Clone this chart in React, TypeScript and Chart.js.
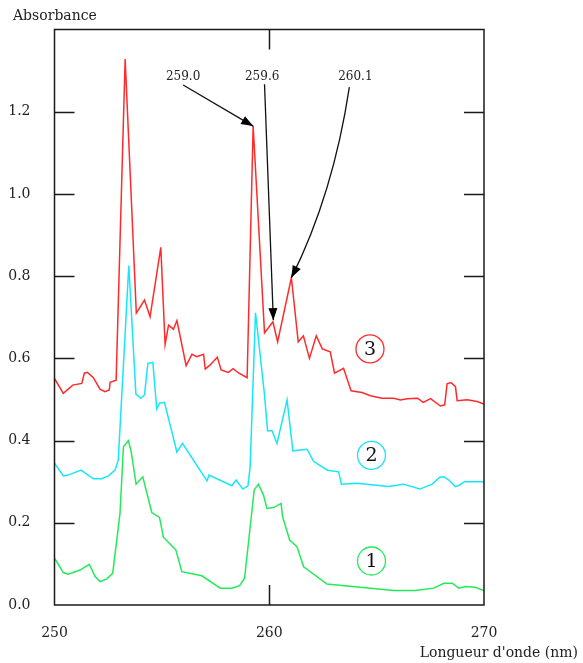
import React, { useEffect, useRef } from "react";
import { Chart, registerables } from "chart.js";

Chart.register(...registerables);

// Wavelength (nm) / absorbance for each curve
const redX = [250.0, 250.41, 250.85, 251.27, 251.39, 251.53, 251.81, 252.12, 252.35, 252.55, 252.59, 252.87, 253.29, 253.81, 254.19, 254.45, 254.95, 255.15, 255.31, 255.54, 255.7, 256.13, 256.4, 256.63, 256.94, 257.02, 257.25, 257.58, 257.76, 258.09, 258.32, 258.55, 258.97, 259.25, 259.78, 260.17, 260.39, 261.03, 261.35, 261.59, 261.87, 262.19, 262.47, 262.84, 263.04, 263.46, 263.81, 264.32, 264.71, 265.25, 265.79, 266.11, 266.42, 266.91, 267.17, 267.51, 267.97, 268.17, 268.28, 268.47, 268.67, 268.75, 269.22, 269.68, 269.99];
const redY = [0.551, 0.515, 0.535, 0.539, 0.564, 0.566, 0.553, 0.525, 0.519, 0.523, 0.542, 0.547, 1.328, 0.71, 0.742, 0.701, 0.87, 0.634, 0.681, 0.671, 0.692, 0.582, 0.61, 0.604, 0.61, 0.574, 0.584, 0.603, 0.572, 0.566, 0.575, 0.565, 0.553, 1.165, 0.662, 0.689, 0.64, 0.796, 0.64, 0.655, 0.6, 0.655, 0.623, 0.616, 0.564, 0.576, 0.521, 0.517, 0.509, 0.503, 0.503, 0.499, 0.502, 0.503, 0.493, 0.502, 0.484, 0.487, 0.538, 0.541, 0.531, 0.497, 0.499, 0.495, 0.489];

const cyanX = [250.0, 250.41, 250.64, 251.24, 251.81, 252.2, 252.51, 252.82, 252.97, 253.46, 253.79, 254.02, 254.19, 254.35, 254.58, 254.76, 254.89, 255.12, 255.7, 255.96, 257.1, 257.2, 258.26, 258.46, 258.77, 259.01, 259.11, 259.36, 259.78, 259.92, 260.13, 260.36, 260.83, 261.1, 261.76, 262.07, 262.72, 263.23, 263.36, 264.09, 265.56, 266.26, 267.01, 267.59, 267.94, 268.13, 268.36, 268.67, 268.87, 269.09, 269.99];
const cyanY = [0.345, 0.314, 0.316, 0.328, 0.307, 0.307, 0.314, 0.328, 0.353, 0.826, 0.513, 0.503, 0.511, 0.588, 0.59, 0.477, 0.491, 0.493, 0.372, 0.393, 0.302, 0.316, 0.29, 0.304, 0.282, 0.29, 0.336, 0.711, 0.511, 0.424, 0.424, 0.393, 0.499, 0.375, 0.379, 0.349, 0.328, 0.324, 0.294, 0.296, 0.288, 0.294, 0.282, 0.294, 0.311, 0.312, 0.304, 0.288, 0.292, 0.3, 0.3];

const greenX = [250.0, 250.41, 250.64, 251.19, 251.62, 251.89, 252.12, 252.43, 252.71, 253.05, 253.21, 253.44, 253.57, 253.8, 254.11, 254.53, 254.89, 255.07, 255.65, 255.93, 256.86, 257.72, 258.26, 258.62, 258.85, 259.3, 259.49, 259.73, 259.89, 260.2, 260.55, 260.62, 260.95, 261.29, 261.6, 262.69, 265.79, 266.81, 267.66, 268.13, 268.52, 268.83, 269.14, 269.6, 269.99];
const greenY = [0.114, 0.079, 0.075, 0.085, 0.099, 0.069, 0.057, 0.063, 0.077, 0.223, 0.385, 0.4, 0.373, 0.294, 0.312, 0.225, 0.213, 0.165, 0.134, 0.081, 0.071, 0.041, 0.041, 0.047, 0.065, 0.28, 0.294, 0.268, 0.235, 0.237, 0.247, 0.215, 0.158, 0.142, 0.093, 0.051, 0.035, 0.035, 0.041, 0.053, 0.053, 0.041, 0.045, 0.043, 0.035];

const xTicks = [250, 260, 270];
const yTicks = [0, 0.2, 0.4, 0.6, 0.8, 1.0, 1.2];

const yTitle = "Absorbance";
const xTitle = "Longueur d'onde (nm)";

// Peak annotations: label, label position, arrow start, optional curve control, arrow tip (data units)
const peakLabels = ["259.0", "259.6", "260.1"];
const peakLabelX = [255.99, 259.67, 264.01];
const peakLabelY = [1.285, 1.285, 1.285];
const arrowFromX = [255.99, 259.78, 263.73];
const arrowFromY = [1.265, 1.267, 1.26];
const arrowCtrlX = [null, null, 262.98];
const arrowCtrlY = [null, null, 1.0];
const arrowToX = [259.25, 260.19, 261.03];
const arrowToY = [1.165, 0.693, 0.796];

// Curve number markers
const markerText = ["3", "2", "1"];
const markerX = [264.69, 264.76, 264.76];
const markerY = [0.623, 0.364, 0.107];

const RED = "#ff2a2a";
const CYAN = "#16e6fa";
const GREEN = "#22ea5a";
const markerColor = [RED, CYAN, GREEN];

const FONT = "'DejaVu Serif', serif";

const toPts = (xs: number[], ys: number[]) => xs.map((x, i) => ({ x, y: ys[i] }));

const decorPlugin = {
  id: "decor",
  afterDatasetsDraw(chart: any) {
    const { ctx, chartArea, scales } = chart;
    const { left, right, top, bottom } = chartArea;
    const xs = scales.x;
    const ys = scales.y;
    ctx.save();
    // frame
    ctx.strokeStyle = "#1a1a1a";
    ctx.lineWidth = 1.5;
    ctx.strokeRect(left, top, right - left, bottom - top);
    // inner ticks
    ctx.lineWidth = 1.5;
    ctx.beginPath();
    yTicks.forEach((v) => {
      if (v <= 0) return;
      const py = Math.round(ys.getPixelForValue(v)) + 0.5;
      ctx.moveTo(left, py);
      ctx.lineTo(left + 20, py);
      ctx.moveTo(right - 20, py);
      ctx.lineTo(right, py);
    });
    xTicks.forEach((v) => {
      if (v <= xs.min || v >= xs.max) return;
      const px = Math.round(xs.getPixelForValue(v)) + 0.5;
      ctx.moveTo(px, bottom);
      ctx.lineTo(px, bottom - 20);
      ctx.moveTo(px, top);
      ctx.lineTo(px, top + 20);
    });
    ctx.stroke();

    // titles
    ctx.fillStyle = "#222";
    ctx.font = `14px ${FONT}`;
    ctx.textBaseline = "alphabetic";
    ctx.textAlign = "left";
    ctx.fillText(yTitle, 13, 20);
    ctx.textAlign = "right";
    ctx.fillText(xTitle, 578, 657);

    // peak annotations
    ctx.font = `12px ${FONT}`;
    ctx.textAlign = "center";
    ctx.textBaseline = "middle";
    peakLabels.forEach((t, i) => {
      ctx.fillStyle = "#222";
      ctx.fillText(t, xs.getPixelForValue(peakLabelX[i]), ys.getPixelForValue(peakLabelY[i]));
      const x0 = xs.getPixelForValue(arrowFromX[i]);
      const y0 = ys.getPixelForValue(arrowFromY[i]);
      const x1 = xs.getPixelForValue(arrowToX[i]);
      const y1 = ys.getPixelForValue(arrowToY[i]);
      const cxv = arrowCtrlX[i];
      const cyv = arrowCtrlY[i];
      let dx: number, dy: number;
      ctx.strokeStyle = "#111";
      ctx.lineWidth = 1.3;
      ctx.beginPath();
      ctx.moveTo(x0, y0);
      if (cxv !== null && cyv !== null) {
        const cx = xs.getPixelForValue(cxv);
        const cy = ys.getPixelForValue(cyv);
        ctx.quadraticCurveTo(cx, cy, x1, y1);
        dx = x1 - cx;
        dy = y1 - cy;
      } else {
        ctx.lineTo(x1, y1);
        dx = x1 - x0;
        dy = y1 - y0;
      }
      ctx.stroke();
      const len = Math.hypot(dx, dy);
      const ux = dx / len;
      const uy = dy / len;
      const hl = 12;
      const hw = 4.5;
      ctx.fillStyle = "#000";
      ctx.beginPath();
      ctx.moveTo(x1, y1);
      ctx.lineTo(x1 - ux * hl - uy * hw, y1 - uy * hl + ux * hw);
      ctx.lineTo(x1 - ux * hl + uy * hw, y1 - uy * hl - ux * hw);
      ctx.closePath();
      ctx.fill();
    });

    // curve markers
    markerText.forEach((t, i) => {
      const px = xs.getPixelForValue(markerX[i]);
      const py = ys.getPixelForValue(markerY[i]);
      ctx.strokeStyle = markerColor[i];
      ctx.lineWidth = 1.3;
      ctx.beginPath();
      ctx.arc(px, py, 14, 0, Math.PI * 2);
      ctx.stroke();
      ctx.fillStyle = "#111";
      ctx.font = `19px ${FONT}`;
      ctx.textAlign = "center";
      ctx.textBaseline = "middle";
      ctx.fillText(t, px, py + 1);
    });
    ctx.restore();
  },
};

export default function App() {
  const ref = useRef<HTMLCanvasElement | null>(null);
  useEffect(() => {
    if (!ref.current) return;
    const lineDs = (data: any[], color: string) => ({
      data,
      borderColor: color,
      backgroundColor: color,
      borderWidth: 1.5,
      pointRadius: 0,
      tension: 0,
      fill: false,
    });
    const chart = new Chart(ref.current, {
      type: "line",
      data: {
        datasets: [
          lineDs(toPts(redX, redY), RED),
          lineDs(toPts(cyanX, cyanY), CYAN),
          lineDs(toPts(greenX, greenY), GREEN),
        ],
      },
      options: {
        animation: false,
        responsive: false,
        devicePixelRatio: 1,
        layout: { padding: { left: 0, right: 99, top: 29.5, bottom: 0 } },
        plugins: { legend: { display: false }, tooltip: { enabled: false } },
        scales: {
          x: {
            type: "linear",
            min: 250,
            max: 270,
            afterBuildTicks: (s: any) => {
              s.ticks = xTicks.map((v) => ({ value: v }));
            },
            afterFit: (s: any) => {
              s.height = 58;
            },
            grid: { display: false },
            border: { display: false },
            ticks: {
              padding: 12,
              color: "#222",
              font: { family: FONT, size: 14 },
              maxRotation: 0,
              callback: (v: any) => String(v),
            },
          },
          y: {
            type: "linear",
            min: 0,
            max: 1.4,
            afterBuildTicks: (s: any) => {
              s.ticks = yTicks.map((v) => ({ value: v }));
            },
            afterFit: (s: any) => {
              s.width = 54.5;
            },
            grid: { display: false },
            border: { display: false },
            ticks: {
              padding: 16,
              color: "#222",
              font: { family: FONT, size: 14 },
              callback: (v: any) => Number(v).toFixed(1),
            },
          },
        },
      },
      plugins: [decorPlugin],
    });
    return () => chart.destroy();
  }, []);
  return (
    <div style={{ position: "fixed", left: 0, top: 0, width: 583, height: 663, background: "#fff" }}>
      <canvas ref={ref} width={583} height={663} style={{ display: "block" }} />
    </div>
  );
}
